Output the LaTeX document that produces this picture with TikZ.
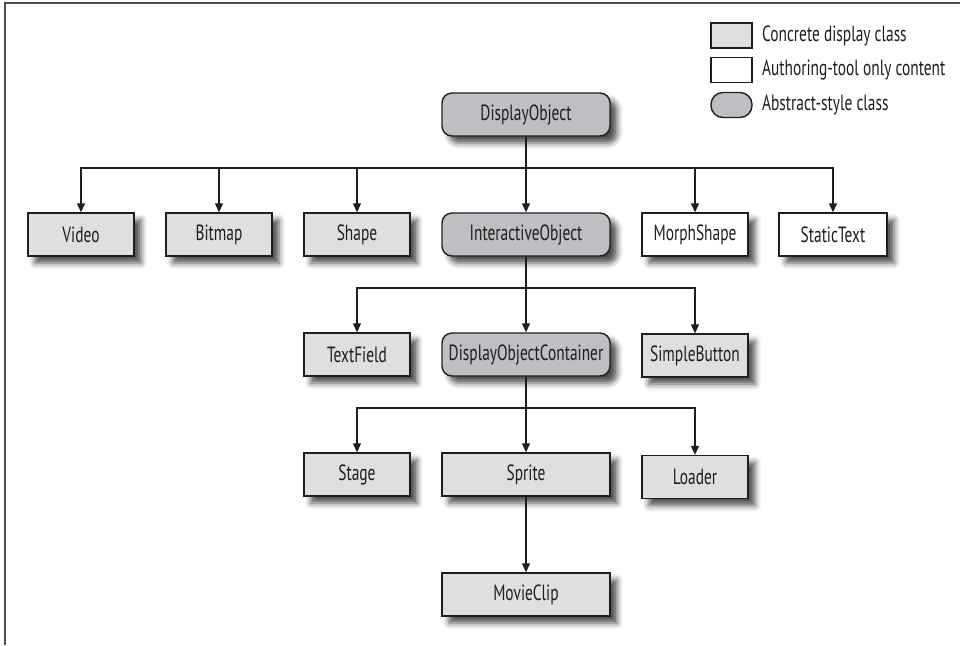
\documentclass[tikz,border=0pt]{standalone}
\usepackage{fontspec}
\setmainfont[FakeStretch=0.7]{PT Sans}
\usetikzlibrary{positioning,arrows.meta,shadows.blur}
\definecolor{concretegray}{RGB}{222,223,225}
\definecolor{abstractgray}{RGB}{190,191,194}
\definecolor{inkgray}{RGB}{30,30,30}

\begin{document}
\begin{tikzpicture}[x=0.5pt,y=-0.5pt,
  shadowed/.style={blur shadow={shadow xshift=3.5pt,shadow yshift=-3.5pt,shadow blur radius=3pt,shadow opacity=70}},
  box/.style={draw=inkgray,line width=0.7pt,minimum width=53pt,minimum height=21.5pt,inner sep=0pt,text=inkgray,font=\fontsize{11}{13}\selectfont},
  concrete/.style={box,shadowed,fill=concretegray},
  authoring/.style={box,shadowed,fill=white},
  abstract/.style={box,shadowed,fill=abstractgray,rounded corners=5pt},
  wide/.style={minimum width=84pt},
  keybox/.style={box,minimum width=20.5pt,minimum height=12.5pt},
  keytext/.style={inner sep=0pt,text=inkgray,font=\fontsize{11}{13}\selectfont,right=4.5pt of #1},
  link/.style={draw=inkgray,line width=0.6pt,-{Triangle[length=4.5pt,width=4pt]}}]
\useasboundingbox (0,0) rectangle (960,645);
\draw[black!70,line width=0.6pt] (5,645) -- (5,3) -- (960,3);

\node[keybox,fill=concretegray] (keyc) at (731.5,35.5) {};
\node[keytext=keyc] (keyctext) {Concrete display class};
\node[keybox,fill=white] (keya) at (731.5,70) {};
\node[keytext=keya] (keyatext) {Authoring-tool only content};
\node[keybox,fill=abstractgray,rounded corners=6pt] (keyb) at (731.5,105) {};
\node[keytext=keyb] (keybtext) {Abstract-style class};

\node[abstract,wide] (dobj) at (526,114.5) {DisplayObject};

\node[concrete] (video) at (81,234.5) {Video};
\node[concrete] (bitmap) at (219,234.5) {Bitmap};
\node[concrete] (shape) at (357,234.5) {Shape};
\node[abstract,wide] (iobj) at (526,234.5) {InteractiveObject};
\node[authoring] (morph) at (695,234.5) {MorphShape};
\node[authoring,minimum width=54pt] (stext) at (833,234.5) {StaticText};

\node[concrete] (tfield) at (357,354.5) {TextField};
\node[abstract,wide] (doc) at (526,354.5) {DisplayObjectContainer};
\node[concrete] (sbutton) at (695,355.5) {SimpleButton};

\node[concrete] (stage) at (357,474.5) {Stage};
\node[concrete,wide] (sprite) at (526,474.5) {Sprite};
\node[concrete] (loader) at (695,477) {Loader};

\node[concrete,wide] (mclip) at (526,594.5) {MovieClip};

\coordinate (bus1) at (0,168);
\coordinate (bus2) at (0,288);
\coordinate (bus3) at (0,408);

\foreach \n in {video,bitmap,shape,morph,stext}
  \draw[link] (dobj.south) |- (bus1 -| \n) -- (\n.north);
\draw[link] (dobj) -- (iobj);
\foreach \n in {tfield,sbutton}
  \draw[link] (iobj.south) |- (bus2 -| \n) -- (\n.north);
\draw[link] (iobj) -- (doc);
\foreach \n in {stage,loader}
  \draw[link] (doc.south) |- (bus3 -| \n) -- (\n.north);
\draw[link] (doc) -- (sprite);
\draw[link] (sprite) -- (mclip);
\end{tikzpicture}
\end{document}
